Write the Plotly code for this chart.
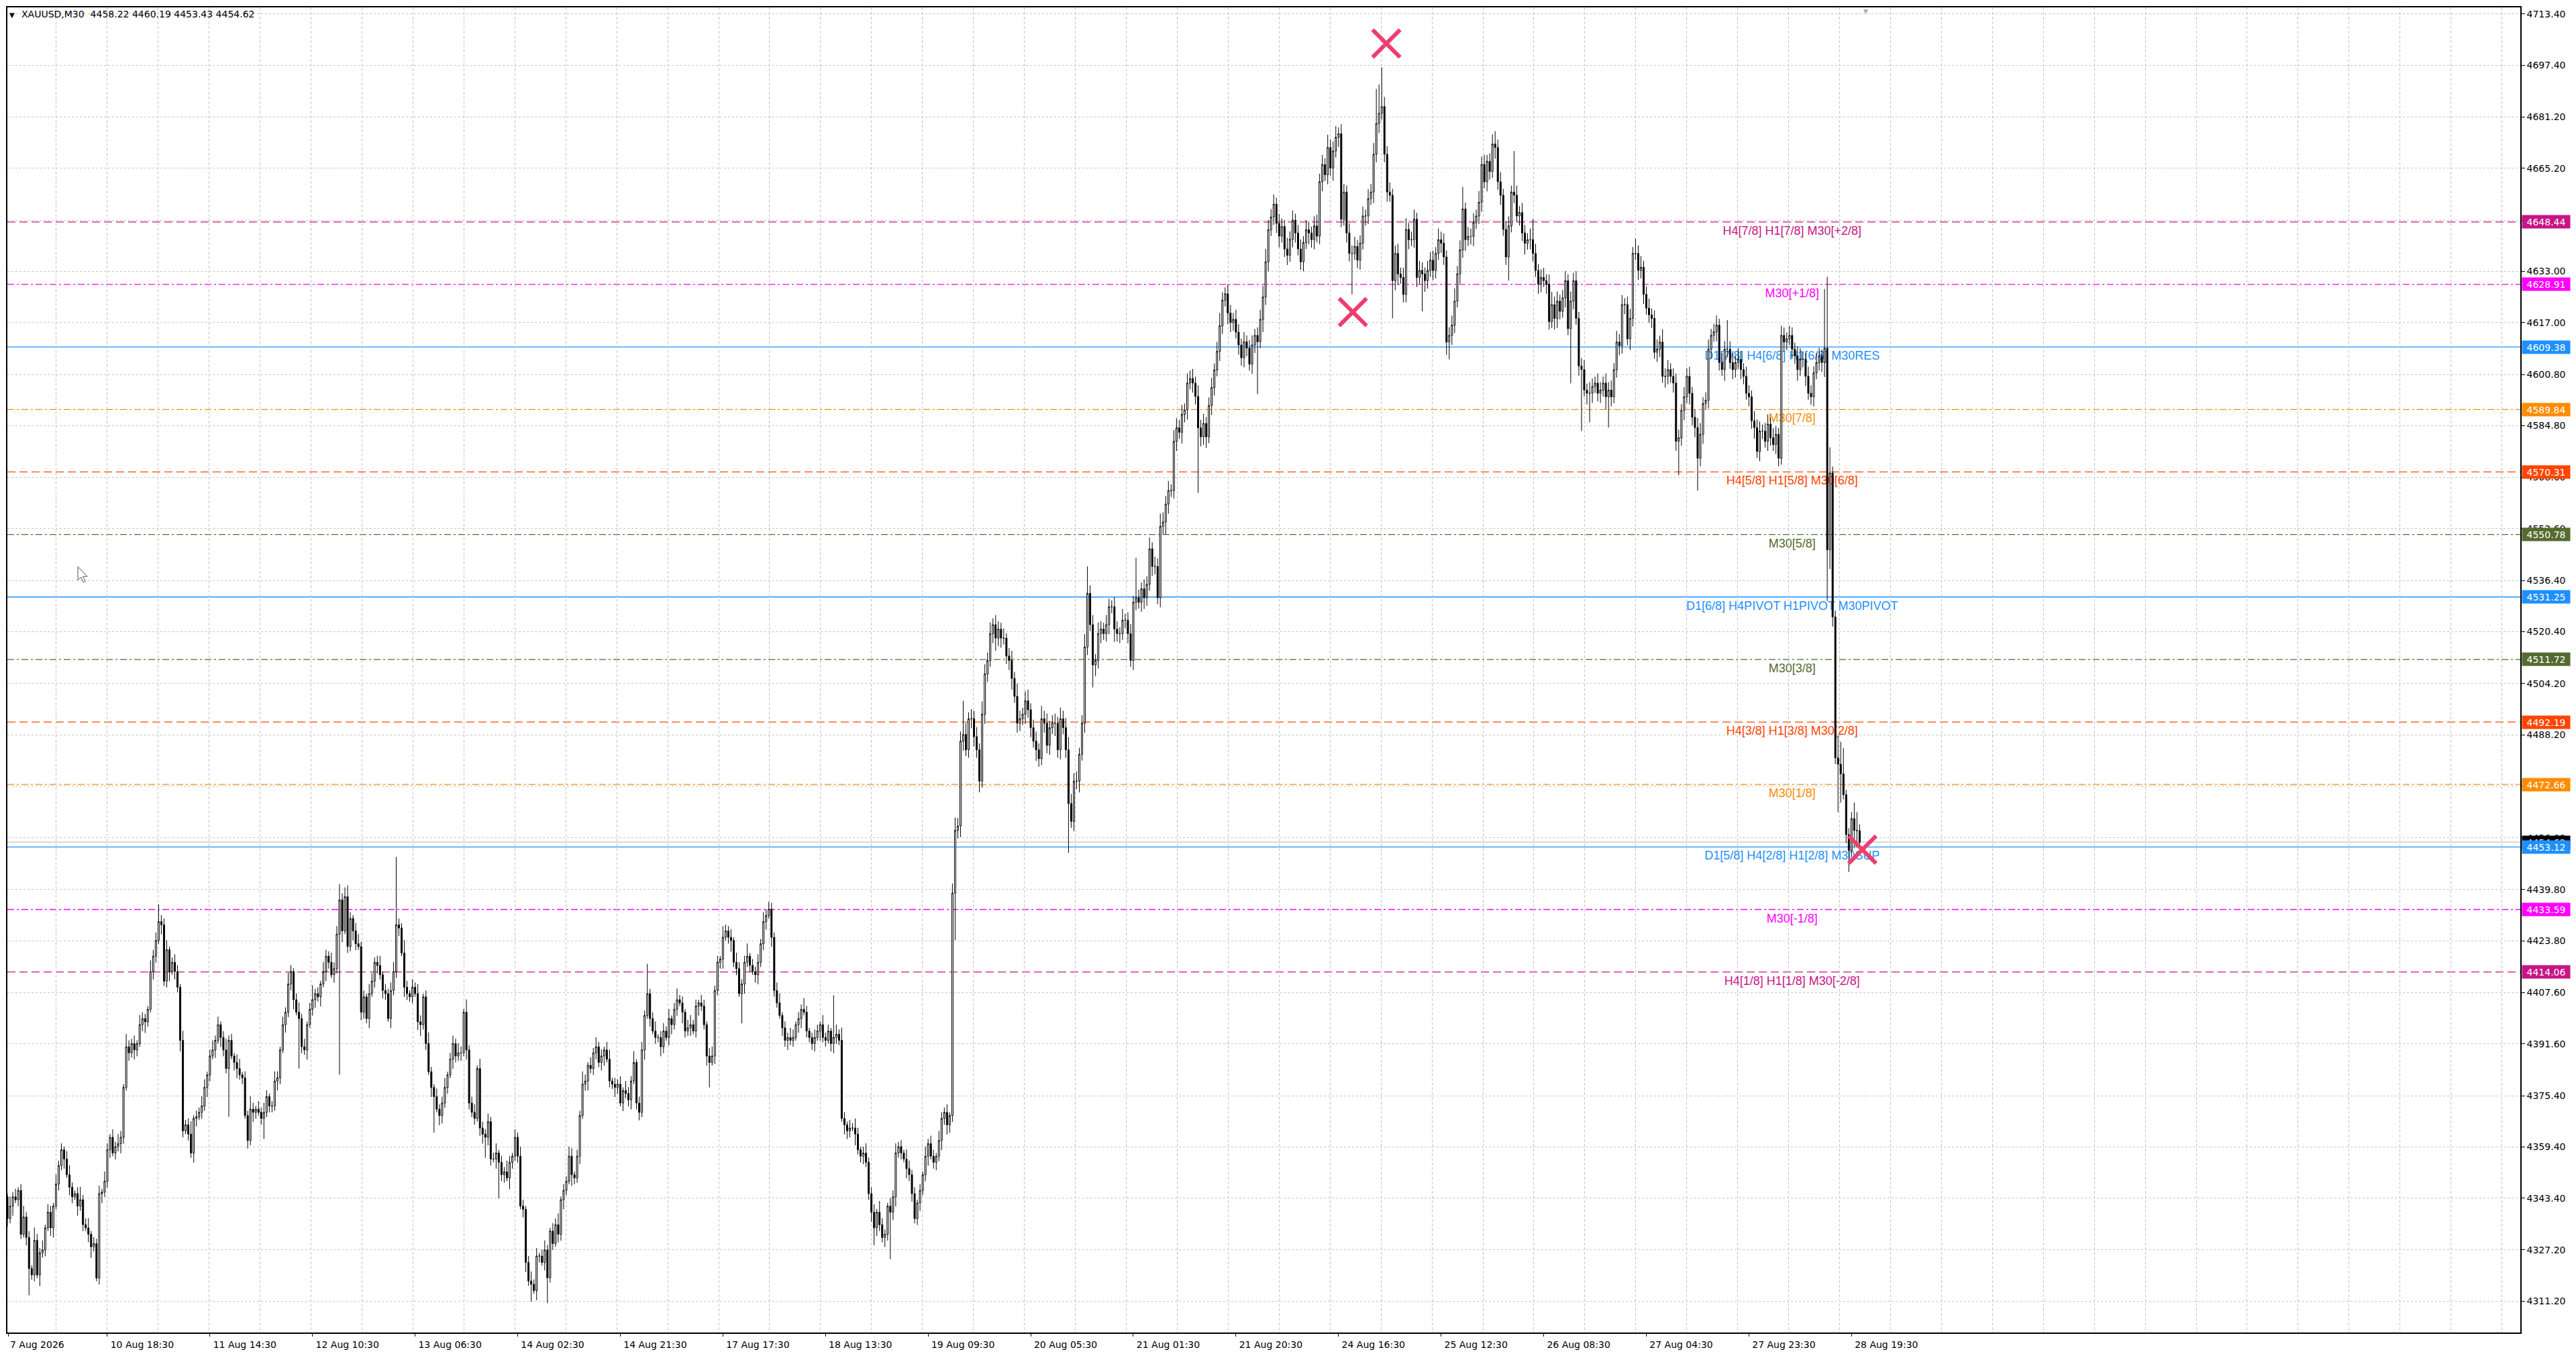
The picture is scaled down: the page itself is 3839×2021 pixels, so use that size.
import plotly.graph_objects as go

# XAUUSD M30 bars, one value per bar.
# bar 0 is the first (partly hidden) bar at the left edge, late on 7 Aug.
first_open = 4346.0
closes = [
    # 0
    4346.5, 4343.8, 4337.0, 4340.9, 4343.8, 4342.9, 4345.8, 4332.1, 4337.5, 4331.1,
    4321.4, 4319.4, 4330.2, 4319.4, 4326.3, 4327.2, 4334.1, 4339.0, 4334.1, 4340.9,
    4347.8, 4353.6, 4358.5, 4355.6, 4350.7, 4346.8, 4343.8, 4344.8, 4340.9, 4342.9,
    4335.1, 4334.1, 4332.1, 4328.2, 4329.2, 4318.4, 4344.8, 4345.3, 4348.7, 4358.5,
    4362.4, 4357.5, 4359.5, 4360.4, 4362.4, 4378.0, 4390.7, 4388.8, 4391.7, 4389.7,
    4391.7, 4397.6, 4399.5, 4398.5, 4402.4, 4414.2, 4419.0, 4423.9, 4429.8, 4428.8,
    4411.2, 4421.0, 4414.2, 4417.1, 4414.2, 4409.3, 4392.7, 4364.4, 4366.3, 4363.4,
    4357.5, 4368.3, 4368.8, 4370.2, 4372.2, 4378.0, 4381.9, 4387.8, 4389.7, 4392.7,
    4397.6, 4393.6, 4389.7, 4383.9, 4392.7, 4387.8, 4385.8, 4383.9, 4381.9, 4381.0,
    4369.2, 4361.4, 4371.2, 4370.2, 4371.2, 4370.2, 4368.3, 4370.2, 4375.1, 4372.2,
    # 100
    4372.2, 4380.0, 4381.0, 4389.7, 4397.6, 4401.5, 4410.3, 4414.2, 4405.4, 4401.5,
    4399.5, 4390.7, 4389.7, 4397.6, 4402.4, 4405.4, 4407.3, 4406.3, 4410.3, 4414.2,
    4419.0, 4417.1, 4413.2, 4415.1, 4425.9, 4436.6, 4426.9, 4437.6, 4422.0, 4430.8,
    4426.9, 4422.9, 4422.0, 4401.5, 4406.3, 4399.5, 4407.3, 4411.2, 4417.1, 4416.1,
    4413.2, 4408.3, 4407.3, 4399.5, 4408.3, 4414.2, 4428.8, 4427.8, 4420.0, 4409.3,
    4407.3, 4406.3, 4409.3, 4407.3, 4398.5, 4397.6, 4406.3, 4391.7, 4382.9, 4378.0,
    4375.1, 4371.2, 4369.2, 4373.1, 4378.0, 4381.9, 4386.8, 4391.7, 4387.8, 4388.8,
    4388.8, 4401.5, 4389.7, 4373.1, 4370.2, 4368.3, 4383.9, 4365.3, 4363.4, 4362.4,
    4367.3, 4355.6, 4355.6, 4357.5, 4354.6, 4350.7, 4351.6, 4349.7, 4354.6, 4356.5,
    4362.4, 4356.5, 4340.9, 4339.9, 4323.3, 4317.5, 4316.5, 4314.5, 4325.3, 4325.3,
    # 200
    4323.3, 4327.2, 4318.5, 4333.1, 4329.2, 4335.1, 4332.1, 4342.9, 4345.8, 4348.7,
    4356.5, 4350.7, 4349.7, 4356.5, 4369.2, 4379.0, 4380.0, 4384.9, 4383.9, 4388.8,
    4390.7, 4385.8, 4387.8, 4389.7, 4386.8, 4380.0, 4379.0, 4378.0, 4379.0, 4373.1,
    4377.0, 4376.1, 4374.1, 4380.0, 4385.8, 4373.1, 4370.2, 4389.7, 4400.5, 4407.3,
    4399.5, 4395.6, 4393.6, 4393.6, 4390.7, 4395.6, 4393.6, 4399.5, 4397.6, 4402.4,
    4405.4, 4404.4, 4401.5, 4395.6, 4396.6, 4397.6, 4395.6, 4403.4, 4404.4, 4403.4,
    4397.6, 4387.8, 4385.8, 4387.8, 4408.3, 4417.1, 4418.1, 4424.9, 4426.9, 4424.9,
    4423.9, 4417.1, 4415.1, 4407.3, 4410.3, 4417.1, 4419.0, 4416.1, 4414.2, 4413.2,
    4417.1, 4422.9, 4429.8, 4431.7, 4433.7, 4424.9, 4408.3, 4404.4, 4400.5, 4396.6,
    4392.7, 4393.6, 4392.7, 4393.6, 4397.6, 4399.5, 4402.4, 4401.5, 4395.6, 4393.6,
    # 300
    4391.7, 4393.6, 4395.6, 4397.6, 4393.6, 4392.7, 4395.6, 4391.7, 4393.6, 4394.6,
    4392.7, 4368.3, 4366.3, 4364.4, 4365.3, 4365.3, 4363.4, 4358.5, 4356.5, 4357.5,
    4354.6, 4344.8, 4339.0, 4334.1, 4339.0, 4335.1, 4331.1, 4332.1, 4340.9, 4339.0,
    4343.8, 4357.5, 4359.5, 4357.5, 4355.6, 4352.6, 4350.7, 4344.8, 4337.0, 4341.9,
    4345.8, 4350.7, 4356.5, 4360.4, 4356.5, 4354.6, 4356.5, 4361.4, 4368.3, 4370.2,
    4366.3, 4369.2, 4438.7, 4458.3, 4459.7, 4486.2, 4488.3, 4483.5, 4493.2, 4493.2,
    4487.6, 4483.5, 4473.7, 4494.6, 4507.2, 4511.4, 4519.8, 4522.6, 4518.4, 4521.2,
    4518.4, 4518.4, 4512.8, 4511.4, 4505.8, 4500.2, 4491.8, 4493.2, 4494.6, 4498.8,
    4496.0, 4490.4, 4486.2, 4483.5, 4480.7, 4493.2, 4491.8, 4484.9, 4490.4, 4491.8,
    4491.8, 4483.5, 4493.2, 4490.4, 4483.5, 4466.7, 4461.1, 4473.7, 4473.7, 4482.1,
    # 400
    4491.8, 4515.6, 4532.4, 4522.6, 4510.0, 4511.4, 4519.8, 4521.2, 4519.8, 4522.6,
    4528.2, 4528.2, 4521.2, 4519.8, 4519.8, 4524.0, 4524.0, 4519.8, 4511.4, 4529.6,
    4531.0, 4529.6, 4533.8, 4531.0, 4535.2, 4546.3, 4540.8, 4540.8, 4531.0, 4553.3,
    4554.7, 4560.3, 4564.5, 4564.5, 4579.9, 4584.1, 4582.7, 4588.3, 4589.7, 4598.1,
    4599.5, 4598.1, 4593.9, 4584.1, 4581.3, 4585.5, 4581.3, 4591.1, 4596.7, 4602.2,
    4608.0, 4616.0, 4624.0, 4626.0, 4620.0, 4617.0, 4618.0, 4614.0, 4610.0, 4606.0,
    4611.0, 4609.0, 4604.0, 4610.0, 4613.0, 4611.0, 4618.0, 4625.0, 4636.0, 4646.0,
    4650.0, 4654.0, 4648.0, 4644.0, 4647.0, 4640.0, 4638.0, 4643.0, 4649.0, 4645.0,
    4640.0, 4636.0, 4642.0, 4646.0, 4645.0, 4642.9, 4647.2, 4644.0, 4661.0, 4666.4,
    4663.2, 4671.7, 4665.3, 4670.6, 4674.9, 4676.0, 4649.3, 4657.8, 4645.0, 4638.6,
    # 500
    4638.6, 4640.8, 4636.5, 4641.8, 4650.3, 4650.3, 4655.7, 4657.8, 4669.6, 4679.2,
    4682.4, 4684.5, 4669.6, 4657.8, 4656.8, 4630.1, 4638.6, 4632.2, 4631.1, 4625.8,
    4646.1, 4642.9, 4642.9, 4649.3, 4631.1, 4633.3, 4632.2, 4630.1, 4633.3, 4636.5,
    4633.3, 4638.6, 4642.9, 4641.8, 4637.5, 4610.9, 4613.0, 4616.2, 4623.7, 4632.2,
    4639.7, 4652.5, 4642.9, 4643.9, 4643.9, 4648.2, 4650.3, 4654.6, 4666.4, 4661.0,
    4667.4, 4664.2, 4672.8, 4671.7, 4661.0, 4656.8, 4646.1, 4637.5, 4647.2, 4657.8,
    4656.8, 4650.3, 4651.4, 4645.0, 4641.8, 4642.9, 4642.9, 4638.6, 4633.3, 4629.0,
    4631.1, 4630.1, 4629.0, 4617.3, 4622.6, 4618.3, 4623.7, 4620.5, 4624.7, 4630.1,
    4615.1, 4623.7, 4630.1, 4618.3, 4603.4, 4602.3, 4595.9, 4594.9, 4594.9, 4597.0,
    4598.1, 4594.9, 4595.9, 4598.1, 4593.8, 4595.9, 4593.8, 4602.3, 4610.9, 4609.8,
    # 600
    4622.6, 4622.6, 4611.9, 4618.3, 4638.6, 4638.6, 4633.3, 4634.3, 4625.8, 4621.5,
    4619.4, 4618.3, 4607.7, 4608.7, 4610.9, 4600.2, 4600.2, 4602.3, 4600.2, 4598.1,
    4579.9, 4581.0, 4589.5, 4593.8, 4600.2, 4594.9, 4587.4, 4584.2, 4574.6, 4582.1,
    4591.7, 4592.7, 4608.7, 4613.0, 4614.1, 4616.2, 4604.5, 4602.3, 4608.7, 4608.7,
    4604.5, 4602.3, 4604.5, 4605.5, 4602.3, 4600.2, 4594.9, 4593.8, 4586.3, 4584.2,
    4576.7, 4583.1, 4583.1, 4579.9, 4585.3, 4581.0, 4578.9, 4582.1, 4574.6, 4613.0,
    4610.9, 4611.9, 4613.0, 4608.7, 4606.6, 4602.3, 4605.5, 4605.5, 4600.2, 4594.9,
    4593.8, 4601.3, 4604.5, 4606.6, 4604.5, 4609.0, 4546.0, 4570.0, 4525.0, 4481.0,
    4479.0, 4476.0, 4469.5, 4457.0, 4452.0, 4462.0, 4458.3, 4458.22, 4454.62,
]

# typical wick lengths above / below the body, in dollars
wick_up = [
    1.5, 2, 1, 3, 1.5, 2.5, 1, 2, 3.5, 1.5, 2, 1, 4, 2, 1.5, 3, 1, 2.5, 2, 1,
    3, 1.5, 2, 1, 2.5, 3, 1.5, 1, 2, 4, 1.5, 2, 3, 1, 2, 1.5, 2.5, 1, 3, 2,
    1, 2.5, 1.5, 3, 2, 1, 4, 2, 1.5, 2.5, 1, 3, 2, 1.5, 1, 3.5, 2, 2.5, 1.5, 2,
    2, 3, 1, 1.5, 2.5, 2, 1, 3, 1.5, 2, 4, 1, 2, 1.5, 3, 2.5, 1, 2, 3, 1.5,
    2.5, 1, 2, 3.5, 1.5, 2, 1, 2.5, 3, 1, 2, 1.5, 4, 2, 1, 2.5, 1.5, 3, 2, 1,
    1.5, 3, 2, 1, 2.5, 1.5, 3.5, 2, 1, 2, 3, 1.5, 2.5, 1, 2, 4.5, 1.5, 2, 1, 3,
    2, 1.5, 3, 2, 2.5, 1, 2, 1.5, 3.5, 2, 1, 2.5, 3, 1.5, 2, 1, 3, 2.5, 1.5, 2,
    3, 1, 2, 1.5, 2.5, 3, 1, 2, 1.5, 4, 2, 1, 2.5, 1.5, 3, 2, 1, 2, 3.5, 1.5,
    1, 2.5, 1.5, 2, 3, 1, 2, 2.5, 1.5, 3, 2, 1, 4, 1.5, 2, 2.5, 1, 3, 2, 1.5,
    2.5, 1.5, 2, 3, 1, 2, 1.5, 3.5, 2, 1, 2.5, 1.5, 3, 2, 1, 2, 3, 1.5, 2.5, 1,
    2, 3, 1.5, 1, 2.5, 2, 3.5, 1, 2, 1.5, 3, 2.5, 1, 2, 1.5, 4, 2, 1, 2.5, 1.5,
    3, 1.5, 2, 1, 2.5, 3, 1, 2, 1.5, 2.5, 1, 3, 2, 1.5, 3.5, 1, 2, 2.5, 1.5, 2,
    1.5, 2, 3, 1, 2, 2.5, 1.5, 3, 1, 2, 3.5, 1.5, 2, 1, 2.5, 3, 1.5, 2, 1, 2.5,
    2, 1, 2.5, 3, 1.5, 2, 1, 3.5, 2, 1.5, 2.5, 1, 3, 2, 1.5, 2, 4, 1, 2, 1.5,
    2.5, 1.5, 3, 2, 1, 2, 1.5, 2.5, 3, 1, 2, 1.5, 3, 2.5, 1, 2, 1.5, 3.5, 2, 1,
    1.5, 2.5, 2, 1, 3, 1.5, 2, 1, 2.5, 3, 1.5, 4, 2, 1, 2.5, 1.5, 3, 2, 1, 2,
    3, 1.5, 2, 2.5, 1, 3.5, 2, 1.5, 1, 2.5, 2, 3, 1.5, 2, 1, 3, 2.5, 1.5, 2, 1,
    2, 1, 3, 1.5, 2.5, 2, 1, 3, 2, 1.5, 2.5, 1, 3, 4, 2.5, 3, 2, 3.5, 2, 3,
    2.5, 3, 2, 4, 3, 2.5, 3.5, 2, 3, 2.5, 2, 3, 1.5, 2.5, 3, 2, 4, 2.5, 2, 3,
    3.5, 2, 2.5, 3, 2, 4, 2.5, 3, 2, 2.5, 3, 2, 3.5, 2.5, 3, 4, 3, 2.5, 3, 2,
    2.5, 4, 3, 2.5, 3, 2, 3.5, 2.5, 2, 3, 2.5, 2, 3, 2.5, 2, 3.5, 2, 2.5, 3, 2,
    3, 2.5, 2, 3, 2.5, 3.5, 2, 3, 2.5, 4, 3, 2.5, 3, 2, 3.5, 3, 2.5, 3, 2, 3,
    2.5, 3, 2, 3.5, 2.5, 3, 2, 2.5, 3, 2, 3, 4, 2.5, 2, 3, 2.5, 2, 3, 2.5, 2,
    3, 2, 2.5, 3, 2, 2.5, 3, 3.5, 4, 3, 2.5, 3, 2, 3, 2.5, 2, 3.5, 2.5, 3, 2,
    2.5, 3, 2, 3, 2.5, 2, 3, 3.5, 2.5, 3, 2, 4, 2.5, 3, 3.5, 2, 3, 2.5, 2, 3,
    2.5, 3, 2, 2.5, 3, 2, 3, 2.5, 3.5, 4, 3, 2.5, 3, 2.5, 3, 2, 2.5, 3, 2, 3,
    3.5, 2, 2.5, 3, 2, 3, 2.5, 2, 3, 2.5, 3, 2, 3.5, 2.5, 3, 2, 2.5, 3, 4, 2.5,
    3, 2.5, 2, 3, 2.5, 3, 2, 3.5, 2.5, 3, 2, 2.5, 3, 4, 2.5, 3, 2, 2.5, 3, 2,
    2.5, 3, 2, 3, 2.5, 2, 3.5, 2.5, 3, 2, 2.5, 3, 2, 3, 4, 2.5, 3, 2, 2.5, 3,
    2, 3, 2.5, 3, 2, 2.5, 3, 2, 3.5, 2.5, 2, 3, 2.5, 2, 3, 2.5, 3, 2, 3.5, 2.5,
    3, 2, 2.5, 3, 2, 3, 2.5, 3.5, 2, 2.5, 3, 2, 2.5, 3, 2, 4, 2.5, 3, 2, 2.5,
    3, 2.5, 2, 3, 2.5, 3, 2, 2.5, 3, 3.5, 2, 2.5, 3, 2, 2.5, 3, 2, 3, 2.5, 2,
    2.5, 3, 2, 3.5, 2.5, 2, 3, 2.5, 2, 3, 2.5, 3, 2, 2.5, 3, 2, 3, 2.5, 2, 3,
    2.5, 2, 3, 2.5, 2, 3, 3.5, 2.5, 2, 3, 2.5, 2, 3, 2.5, 2, 3, 3, 3, 3, 2,
    3, 2.5, 2, 2.5, 2, 2, 2.5, 2, 2,
]
wick_dn = [
    2, 1, 2.5, 1.5, 3, 1, 2, 1.5, 1, 2.5, 3, 1.5, 2, 1, 3.5, 1.5, 2, 1, 2.5, 3,
    1, 2, 1.5, 3, 1, 2.5, 2, 1, 3, 1.5, 2, 1, 2.5, 3.5, 1.5, 1, 2, 3, 1.5, 2,
    2.5, 1, 2, 1.5, 3, 2, 1, 2.5, 1.5, 3, 2, 1, 2, 3.5, 1.5, 1, 2.5, 2, 1, 3,
    1.5, 2, 3, 1, 2.5, 1.5, 3.5, 2, 1, 2, 1.5, 3, 2.5, 1, 2, 1.5, 3, 2, 1, 2.5,
    1, 3, 2, 1.5, 2, 1, 2.5, 3, 1.5, 2, 1, 2.5, 1.5, 3, 2, 1, 2, 3.5, 1.5, 2,
    2, 1.5, 3, 2, 1, 2.5, 1.5, 2, 3, 1, 2.5, 2, 1.5, 3, 1, 2, 2.5, 1.5, 3, 1,
    3, 2, 1, 2.5, 1.5, 2, 3.5, 1, 2, 1.5, 3, 2, 1, 2.5, 2, 1.5, 3, 1, 2, 2.5,
    1.5, 2.5, 2, 1, 3, 1.5, 2, 2.5, 1, 3, 2, 1.5, 2, 1, 2.5, 3.5, 1.5, 2, 1, 3,
    2, 1, 3, 2.5, 1.5, 2, 1, 3, 2, 1.5, 2.5, 1, 3, 2, 1.5, 2, 1, 2.5, 3, 1.5,
    2.5, 2, 1, 3, 1.5, 2, 2.5, 1, 3.5, 2, 1.5, 2, 1, 2.5, 3, 1.5, 2, 1, 3, 2,
    1, 2.5, 3, 1.5, 2, 1, 2.5, 2, 3, 1.5, 1, 3.5, 2, 1.5, 2.5, 1, 2, 3, 1.5, 2,
    2, 1.5, 2.5, 3, 1, 2, 1.5, 3, 2, 1, 2.5, 1.5, 2, 3, 1, 2, 2.5, 1.5, 3, 1,
    2.5, 1, 2, 1.5, 3, 2, 1, 2.5, 3, 1.5, 2, 1, 3.5, 2, 1.5, 2.5, 1, 2, 3, 1.5,
    1.5, 3, 2, 1, 2.5, 1.5, 2, 3, 1, 2, 3.5, 1.5, 2, 1, 2.5, 3, 1.5, 2, 1, 2.5,
    3, 1.5, 2, 2.5, 1, 3, 2, 1.5, 1, 2.5, 2, 3, 1.5, 2, 1, 2.5, 3, 1, 2, 1.5,
    2, 2.5, 1, 3, 1.5, 2, 1, 2.5, 3, 2, 1.5, 1, 3, 2.5, 2, 1, 3.5, 1.5, 2, 2.5,
    1.5, 2, 3, 1, 2.5, 2, 1.5, 3, 2, 1, 2.5, 3, 1.5, 2, 1, 3, 2, 2.5, 1.5, 2,
    2.5, 1.5, 2, 3, 1, 2, 2.5, 1.5, 3, 2, 3, 2.5, 2, 3, 2.5, 3.5, 3, 2, 2.5, 3,
    3, 2.5, 3.5, 2, 3, 2.5, 2, 3, 4, 2.5, 3, 2, 2.5, 3, 3.5, 2, 3, 2.5, 2, 3,
    2.5, 3, 2, 3.5, 2.5, 2, 3, 2.5, 3, 2, 4, 2.5, 3, 2, 2.5, 3, 2, 3, 2.5, 3.5,
    2, 3, 2.5, 2, 3, 3.5, 2.5, 3, 2, 2.5, 3, 2, 4, 2.5, 3, 2, 2.5, 3, 2, 3,
    2.5, 2, 3, 3.5, 2.5, 2, 3, 2.5, 2, 3, 2.5, 4, 3, 2, 2.5, 3, 2, 3.5, 2.5, 3,
    2, 3, 2.5, 2, 3, 2.5, 3.5, 2, 3, 2.5, 2, 3, 2.5, 2, 3.5, 3, 2.5, 2, 3, 2.5,
    3, 2.5, 2, 3, 2.5, 3, 2, 4, 2.5, 3, 2, 2.5, 3, 3.5, 2, 2.5, 3, 2, 2.5, 3,
    2, 2.5, 3, 2, 3.5, 2.5, 3, 2, 2.5, 3, 2, 3, 2.5, 4, 2, 3, 2.5, 2, 3, 2.5,
    3, 2, 2.5, 3, 2, 3, 2.5, 2, 3.5, 2.5, 3, 2, 2.5, 3, 2, 2.5, 3, 3.5, 2, 2.5,
    2.5, 3, 2, 2.5, 3, 2, 3, 3.5, 2.5, 2, 3, 2.5, 2, 3, 2.5, 4, 2, 3, 2.5, 2,
    3, 2.5, 3.5, 2, 2.5, 3, 2, 2.5, 3, 2, 3, 2.5, 2, 3.5, 2.5, 3, 2, 2.5, 3, 2,
    2.5, 2, 3, 2.5, 3.5, 2, 3, 2.5, 2, 3, 2.5, 2, 3, 2.5, 2, 3.5, 3, 2.5, 2, 3,
    2, 3, 2.5, 2, 3, 2.5, 2, 3.5, 2.5, 3, 2, 2.5, 3, 2, 4, 2.5, 3, 2, 2.5, 3,
    2.5, 3, 2, 3.5, 2.5, 2, 3, 2.5, 3, 2, 2.5, 3, 2, 3, 2.5, 2, 3.5, 2.5, 2, 3,
    3, 2, 2.5, 3, 2, 3.5, 2.5, 3, 2, 2.5, 3, 2, 2.5, 3, 2, 3, 2.5, 2, 3.5, 2.5,
    2, 3, 2.5, 2, 3, 2.5, 2, 3, 2.5, 3.5, 2, 3, 2.5, 2, 3, 2.5, 2, 3, 2.5, 2,
    3, 2.5, 2, 3, 2.5, 3.5, 2, 2.5, 3, 2, 2.5, 3, 2, 2.5, 3, 2, 3, 3, 3, 3,
    2, 2.5, 3, 2, 2.5, 2, 2.5, 2, 2,
]

# long wicks that stand out on the chart: bar -> price
wick_highs = {
    58: 4435.2, 125: 4441.5, 127: 4440.5, 146: 4450.0, 239: 4416.6,
    284: 4436.0, 308: 4406.8, 356: 4498.8, 402: 4540.8, 420: 4543.5,
    509: 4690.0, 510: 4691.4, 511: 4696.8, 541: 4659.4, 560: 4670.6,
    567: 4649.3, 605: 4643.2, 639: 4617.8,
    675: 4627.5, 676: 4631.3, 677: 4578.0, 678: 4572.0, 679: 4527.0,
    680: 4488.0, 681: 4486.0, 682: 4484.0, 683: 4471.0, 684: 4459.0,
    685: 4464.0, 686: 4467.0, 687: 4464.0, 688: 4460.19,
}
wick_lows = {
    10: 4313.0, 84: 4368.8, 97: 4361.9, 110: 4383.9, 125: 4382.0,
    160: 4363.9, 179: 4356.0, 184: 4343.3, 196: 4311.0, 202: 4310.6,
    262: 4378.0, 274: 4398.0, 323: 4328.7, 329: 4324.3, 353: 4424.0,
    395: 4451.3, 404: 4503.0, 443: 4563.8, 465: 4594.6,
    500: 4625.8, 515: 4618.3, 526: 4620.5, 536: 4605.5, 558: 4630.1,
    581: 4598.0, 585: 4583.1, 588: 4585.8, 595: 4584.2, 621: 4569.3,
    628: 4564.5,
    675: 4600.0, 676: 4530.0, 677: 4540.0, 678: 4522.0, 679: 4479.0,
    680: 4464.0, 681: 4467.0, 682: 4468.0, 683: 4454.3, 684: 4445.3,
    685: 4450.0, 686: 4453.0, 687: 4453.0, 688: 4453.43,
}

time_labels = [
    "10 Aug 18:30", "11 Aug 14:30", "12 Aug 10:30", "13 Aug 06:30", "14 Aug 02:30",
    "14 Aug 21:30", "17 Aug 17:30", "18 Aug 13:30", "19 Aug 09:30", "20 Aug 05:30",
    "21 Aug 01:30", "21 Aug 20:30", "24 Aug 16:30", "25 Aug 12:30", "26 Aug 08:30",
    "27 Aug 04:30", "27 Aug 23:30", "28 Aug 19:30",
]
first_date = "7 Aug 2026"
price_ticks = [
    4713.40, 4697.40, 4681.20, 4665.20, 4649.00, 4633.00, 4617.00, 4600.80, 4584.80,
    4568.60, 4552.60, 4536.40, 4520.40, 4504.20, 4488.20, 4472.20, 4456.00, 4439.80,
    4423.80, 4407.60, 4391.60, 4375.40, 4359.40, 4343.40, 4327.20, 4311.20,
]

# Murrey math levels drawn by the indicator
level_prices = [4648.44, 4628.91, 4609.38, 4589.84, 4570.31, 4550.78, 4531.25,
                4511.72, 4492.19, 4472.66, 4453.12, 4433.59, 4414.06]
level_colors = ["#C71585", "#FF00FF", "#1E90FF", "#FF8C00", "#FF4500", "#556B2F", "#1E90FF",
                "#556B2F", "#FF4500", "#FF8C00", "#1E90FF", "#FF00FF", "#C71585"]
level_styles = ["dash", "dashdot", "solid", "dashdot", "dash", "dashdot", "solid",
                "dashdot", "dash", "dashdot", "solid", "dashdot", "dash"]
level_names = [
    "H4[7/8] H1[7/8] M30[+2/8]", "M30[+1/8]", "D1[7/8] H4[6/8] H1[6/8] M30RES",
    "M30[7/8]", "H4[5/8] H1[5/8] M30[6/8]", "M30[5/8]", "D1[6/8] H4PIVOT H1PIVOT M30PIVOT",
    "M30[3/8]", "H4[3/8] H1[3/8] M30[2/8]", "M30[1/8]", "D1[5/8] H4[2/8] H1[2/8] M30SUP",
    "M30[-1/8]", "H4[1/8] H1[1/8] M30[-2/8]",
]

# red crosses from the signal indicator
signal_bar = [500.3, 512.7, 689.0]
signal_price = [4620.3, 4704.2, 4452.3]

assert len(closes) == len(wick_up) == len(wick_dn) == 689

opens = [first_open] + closes[:-1]
highs, lows = [], []
for i, (o, c) in enumerate(zip(opens, closes)):
    top, bot = max(o, c), min(o, c)
    highs.append(max(top, wick_highs.get(i, top + wick_up[i])))
    lows.append(min(bot, wick_lows.get(i, bot - wick_dn[i])))
bars = list(range(len(closes)))
bid = closes[-1]

FONT = "DejaVu Sans, Verdana, sans-serif"
LABEL_FONT = "Liberation Sans, Arial, sans-serif"
GRID = "#C4C4C4"
DASHES = {"dash": "12px,6px", "dashdot": "10px,4px,3px,4px", "solid": "solid"}

fig = go.Figure()
fig.add_trace(go.Candlestick(
    x=bars, open=opens, high=highs, low=lows, close=closes,
    increasing=dict(line=dict(color="black", width=1), fillcolor="white"),
    decreasing=dict(line=dict(color="black", width=1), fillcolor="black"),
    whiskerwidth=0, hoverinfo="skip", showlegend=False,
))
fig.add_trace(go.Scatter(
    x=signal_bar, y=signal_price, mode="markers", hoverinfo="skip", showlegend=False,
    marker=dict(symbol="x-thin", size=41, color="#EC3F6E", line=dict(width=6, color="#EC3F6E")),
))

shapes = []
for p, col, st, name in zip(level_prices, level_colors, level_styles, level_names):
    shapes.append(dict(type="line", xref="paper", x0=0, x1=1, yref="y", y0=p, y1=p,
                       layer="between", line=dict(color=col, width=1.3, dash=DASHES[st])))
    shapes.append(dict(type="line", xref="x", x0=640, x1=686, yref="y", y0=p, y1=p,
                       layer="between", line=dict(color="rgba(0,0,0,0)", width=1),
                       label=dict(text=name, textposition="middle", yanchor="top", padding=1,
                                  textangle=0,
                                  font=dict(family=LABEL_FONT, size=18, color=col))))
# bid line
shapes.append(dict(type="line", xref="paper", x0=0, x1=1, yref="y", y0=bid, y1=bid,
                   layer="between", line=dict(color="#C0C0C0", width=1.3)))
# mouse pointer left on the chart
shapes.append(dict(type="path", xref="x", yref="y", xsizemode="pixel", ysizemode="pixel",
                   xanchor=28.1, yanchor=4540.7, layer="above",
                   path="M0,0 L0,-20 L4.5,-15.5 L8,-23 L11,-21.5 L7.5,-14.5 L14,-14.5 Z",
                   fillcolor="white", line=dict(color="#505050", width=1)))

annotations = []
# price tags on the right scale (the bid tag sits under the 4453.12 tag)
tags = list(zip(level_prices, level_colors))
tags.insert(10, (bid, "black"))
for p, col in tags:
    annotations.append(dict(xref="paper", x=1.0005, xanchor="left", yref="y", y=p, yanchor="middle",
                            text=f"{p:.2f}", showarrow=False, bgcolor=col, width=67, height=15,
                            borderpad=2, font=dict(family=FONT, size=14, color="white")))
annotations.append(dict(xref="paper", x=0, xanchor="left", xshift=1, yref="paper", y=1,
                        yanchor="top", yshift=-4, text="▼", showarrow=False,
                        font=dict(family=FONT, size=10, color="black")))
annotations.append(dict(xref="paper", x=0, xanchor="left", xshift=19, yref="paper", y=1,
                        yanchor="top", showarrow=False,
                        text=f"XAUUSD,M30\u00a0\u00a0{opens[-1]:.2f} {highs[-1]:.2f} {lows[-1]:.2f} {closes[-1]:.2f}",
                        font=dict(family=FONT, size=14, color="black")))
# chart-shift marker on the top border
annotations.append(dict(xref="x", x=690.3, yref="paper", y=1, yanchor="top", text="▼",
                        showarrow=False, borderpad=0,
                        font=dict(family=FONT, size=9, color="#A8A8A8")))

label_step = 38  # bars between two time labels
tickvals = [2.3] + [39 + label_step * k for k in range(len(time_labels))]
ticktext = [first_date + "\u00a0" * 4] + time_labels

fig.update_layout(
    width=3823, height=2005,
    margin=dict(l=1, r=75, t=1, b=23),
    paper_bgcolor="white", plot_bgcolor="white",
    font=dict(family=FONT, size=14, color="black"),
    hovermode=False, showlegend=False, boxgap=0.3,
    shapes=shapes, annotations=annotations,
    xaxis=dict(
        range=[1.99, 932.69], rangeslider=dict(visible=False),
        tickvals=tickvals, ticktext=ticktext, ticks="outside", ticklen=4, tickcolor="black",
        ticklabelshift=52, showgrid=False, zeroline=False,
        showline=True, linecolor="black", linewidth=1.5, mirror=True,
        minor=dict(tickmode="linear", tick0=20.12, dtick=18.87, showgrid=True,
                   gridcolor=GRID, griddash="4px,3px", gridwidth=1, ticks=""),
        tickfont=dict(family=FONT, size=14, color="black"),
    ),
    yaxis=dict(
        side="right", range=[4301.40, 4715.49],
        tickvals=price_ticks, ticktext=[f"{v:.2f}" for v in price_ticks],
        ticks="outside", ticklen=5, tickcolor="black",
        showgrid=True, gridcolor=GRID, griddash="3px,3px", gridwidth=1, zeroline=False,
        showline=True, linecolor="black", linewidth=1.5, mirror=True,
        tickfont=dict(family=FONT, size=14, color="black"),
    ),
)

fig.write_html("out.html")
